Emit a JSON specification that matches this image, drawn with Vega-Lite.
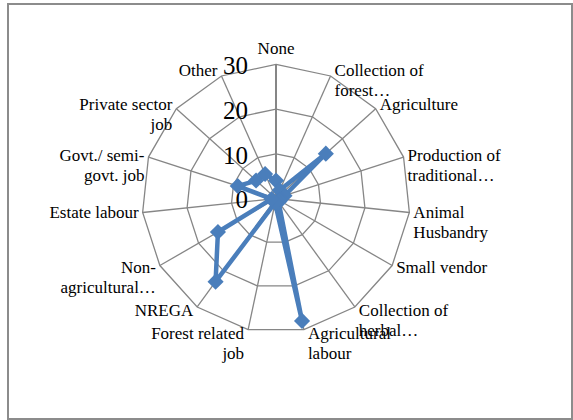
{
  "$schema": "https://vega.github.io/schema/vega-lite/v6.json",
  "width": 564,
  "height": 415,
  "autosize": {"type": "none"},
  "padding": {"left": 8, "top": 4, "right": 1, "bottom": 1},
  "background": "white",
  "config": {
    "view": {"stroke": "#8c8c8c", "strokeWidth": 2}
  },
  "datasets": {
    "cats": [
      {"idx": 0, "cat": "None", "value": 4},
      {"idx": 1, "cat": "Collection of\nforest…", "value": 2},
      {"idx": 2, "cat": "Agriculture", "value": 15},
      {"idx": 3, "cat": "Production of\ntraditional…", "value": 2},
      {"idx": 4, "cat": "Animal\nHusbandry", "value": 1},
      {"idx": 5, "cat": "Small vendor", "value": 1},
      {"idx": 6, "cat": "Collection of\nherbal…", "value": 1},
      {"idx": 7, "cat": "Agricultural\nlabour", "value": 28},
      {"idx": 8, "cat": "Forest related\njob", "value": 1},
      {"idx": 9, "cat": "NREGA", "value": 23},
      {"idx": 10, "cat": "Non-\nagricultural…", "value": 15},
      {"idx": 11, "cat": "Estate labour", "value": 1},
      {"idx": 12, "cat": "Govt./ semi-\ngovt. job", "value": 9},
      {"idx": 13, "cat": "Private sector\njob", "value": 6},
      {"idx": 14, "cat": "Other", "value": 6}
    ],
    "ticks": [{"t": 0}, {"t": 10}, {"t": 20}, {"t": 30}]
  },
  "layer": [
    {
      "data": {"name": "cats"},
      "transform": [
        {"calculate": "10", "as": "r1"},
        {"calculate": "20", "as": "r2"},
        {"calculate": "30", "as": "r3"},
        {"fold": ["r1", "r2", "r3"], "as": ["ring", "level"]},
        {"calculate": "datum.level*sin(datum.idx*2*PI/15)", "as": "gx"},
        {"calculate": "datum.level*cos(datum.idx*2*PI/15)", "as": "gy"}
      ],
      "mark": {"type": "line", "interpolate": "linear-closed", "color": "#868686", "strokeWidth": 1.3},
      "encoding": {
        "x": {"field": "gx", "type": "quantitative", "scale": {"domain": [-59.96, 66.22], "nice": false, "zero": false}, "axis": null},
        "y": {"field": "gy", "type": "quantitative", "scale": {"domain": [-49.33, 43.51], "nice": false, "zero": false}, "axis": null},
        "detail": {"field": "ring"},
        "order": {"field": "idx", "type": "quantitative"}
      }
    },
    {
      "data": {"name": "cats"},
      "transform": [
        {"calculate": "30*sin(datum.idx*2*PI/15)", "as": "sx"},
        {"calculate": "30*cos(datum.idx*2*PI/15)", "as": "sy"}
      ],
      "mark": {"type": "rule", "color": "#868686"},
      "encoding": {
        "x": {"field": "sx", "type": "quantitative"},
        "y": {"field": "sy", "type": "quantitative"},
        "x2": {"datum": 0},
        "y2": {"datum": 0},
        "strokeWidth": {"condition": {"test": "datum.idx == 0", "value": 2}, "value": 1.3}
      }
    },
    {
      "data": {"name": "ticks"},
      "mark": {"type": "text", "font": "Liberation Serif", "color": "#000000", "align": "right", "baseline": "middle", "dx": -28, "dy": 2, "fontSize": 25},
      "encoding": {
        "x": {"datum": 0, "type": "quantitative"},
        "y": {"field": "t", "type": "quantitative"},
        "text": {"field": "t", "type": "quantitative"}
      }
    },
    {
      "data": {"name": "cats"},
      "transform": [
        {"calculate": "datum.value*sin(datum.idx*2*PI/15)", "as": "px"},
        {"calculate": "datum.value*cos(datum.idx*2*PI/15)", "as": "py"}
      ],
      "mark": {"type": "line", "interpolate": "linear-closed", "color": "#4a7ebb", "strokeWidth": 4.5, "strokeJoin": "round"},
      "encoding": {
        "x": {"field": "px", "type": "quantitative"},
        "y": {"field": "py", "type": "quantitative"},
        "order": {"field": "idx", "type": "quantitative"}
      }
    },
    {
      "data": {"name": "cats"},
      "transform": [
        {"calculate": "datum.value*sin(datum.idx*2*PI/15)", "as": "px"},
        {"calculate": "datum.value*cos(datum.idx*2*PI/15)", "as": "py"}
      ],
      "mark": {"type": "point", "shape": "diamond", "filled": true, "size": 260, "color": "#4a7ebb", "opacity": 1},
      "encoding": {
        "x": {"field": "px", "type": "quantitative"},
        "y": {"field": "py", "type": "quantitative"}
      }
    },
    {
      "data": {"name": "cats"},
      "transform": [
        {"filter": "datum.idx == 0"},
        {"calculate": "30*sin(datum.idx*2*PI/15)", "as": "lx"},
        {"calculate": "30*cos(datum.idx*2*PI/15)", "as": "ly"}
      ],
      "mark": {"type": "text", "font": "Liberation Serif", "color": "#000000", "align": "center", "baseline": "middle", "dy": -15, "fontSize": 17, "lineBreak": "\n", "lineHeight": 20},
      "encoding": {
        "x": {"field": "lx", "type": "quantitative"},
        "y": {"field": "ly", "type": "quantitative"},
        "text": {"field": "cat"}
      }
    },
    {
      "data": {"name": "cats"},
      "transform": [
        {"filter": "datum.idx >= 1 && datum.idx <= 7"},
        {"calculate": "30*sin(datum.idx*2*PI/15)", "as": "lx"},
        {"calculate": "31.1*cos(datum.idx*2*PI/15)", "as": "ly"}
      ],
      "mark": {"type": "text", "font": "Liberation Serif", "color": "#000000", "align": "left", "baseline": "middle", "dx": 4, "fontSize": 17, "lineBreak": "\n", "lineHeight": 20},
      "encoding": {
        "x": {"field": "lx", "type": "quantitative"},
        "y": {"field": "ly", "type": "quantitative"},
        "text": {"field": "cat"}
      }
    },
    {
      "data": {"name": "cats"},
      "transform": [
        {"filter": "datum.idx >= 8"},
        {"calculate": "30*sin(datum.idx*2*PI/15)", "as": "lx"},
        {"calculate": "31.1*cos(datum.idx*2*PI/15)", "as": "ly"}
      ],
      "mark": {"type": "text", "font": "Liberation Serif", "color": "#000000", "align": "right", "baseline": "middle", "dx": -4, "fontSize": 17, "lineBreak": "\n", "lineHeight": 20},
      "encoding": {
        "x": {"field": "lx", "type": "quantitative"},
        "y": {"field": "ly", "type": "quantitative"},
        "text": {"field": "cat"}
      }
    }
  ]
}
